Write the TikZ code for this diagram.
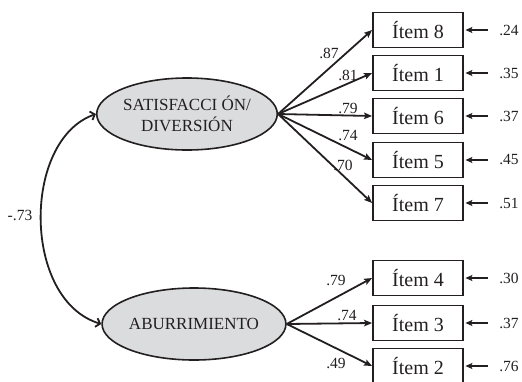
\documentclass[tikz,border=0pt]{standalone}
\usepackage{fontspec}
\setmainfont{Liberation Serif}
\usetikzlibrary{arrows.meta,shapes.geometric}
\definecolor{lvfill}{RGB}{219,220,222}
\definecolor{ink}{RGB}{35,31,32}
\begin{document}
\begin{tikzpicture}[x=1pt,y=-1pt,
  lv/.style={ellipse,draw=ink,line width=1.6pt,fill=lvfill,minimum width=160pt,minimum height=72pt,inner sep=0pt,align=center,text=ink,font=\fontsize{17}{21}\selectfont},
  item/.style={draw=ink,line width=1.8pt,minimum width=90pt,minimum height=35pt,inner sep=0pt,text=ink,font=\fontsize{20}{22}\selectfont},
  lbl/.style={font=\fontsize{15.5}{17}\selectfont,inner sep=0pt,text=ink},
  load/.style={draw=ink,line width=1.8pt,-{Stealth[length=8pt,width=6.5pt,inset=1.5pt]}},
  err/.style={draw=ink,line width=1.8pt,-{Stealth[length=7pt,width=6pt,inset=1.5pt]}},
  corr/.style={draw=ink,line width=1.8pt,{Straight Barb[length=4pt,width=9pt,line width=1.8pt]}-{Straight Barb[length=4pt,width=9pt,line width=1.8pt]}}
]
\useasboundingbox (0,0) rectangle (522,381);

\node[lv] (s) at (187,114) {SATISFACCI ÓN/\\DIVERSIÓN};
\node[lv] (a) at (194,324) {ABURRIMIENTO};

\node[item] (i8) at (418,30) {Ítem 8};
\node[item] (i1) at (418,73) {Ítem 1};
\node[item] (i6) at (418,116) {Ítem 6};
\node[item] (i5) at (418,160) {Ítem 5};
\node[item] (i7) at (418,203) {Ítem 7};
\node[item] (i4) at (418,278) {Ítem 4};
\node[item] (i3) at (418,323) {Ítem 3};
\node[item] (i2) at (418,366) {Ítem 2};

\foreach \i in {8,1,6,5,7}{\draw[load] (s.east) -- (i\i.west);}
\foreach \i in {4,3,2}{\draw[load] (a.east) -- (i\i.west);}

\foreach \i in {8,1,6,5,7,4,3,2}{
  \coordinate (e\i) at ([xshift=24pt]i\i.east);
  \draw[err] (e\i) -- ([xshift=1.5pt]i\i.east);
}

\node[lbl] (l8) at (329,53) {.87};
\node[lbl] (l1) at (348,75) {.81};
\node[lbl] (l6) at (348,108) {.79};
\node[lbl] (l5) at (348,136) {.74};
\node[lbl] (l7) at (343,165) {.70};
\node[lbl] (l4) at (336,280) {.79};
\node[lbl] (l3) at (347,316) {.74};
\node[lbl] (l2) at (336,363) {.49};

\node[lbl] (r8) at (509,30) {.24};
\node[lbl] (r1) at (509,73) {.35};
\node[lbl] (r6) at (509,116) {.37};
\node[lbl] (r5) at (509,160) {.45};
\node[lbl] (r7) at (509,203) {.51};
\node[lbl] (r4) at (509,278) {.30};
\node[lbl] (r3) at (509,323) {.37};
\node[lbl] (r2) at (509,366) {.76};

\draw[corr] (s.west) .. controls (22,140) and (22,300) .. (a.west);
\node[lbl] (c) at (20,215) {-.73};
\end{tikzpicture}
\end{document}
